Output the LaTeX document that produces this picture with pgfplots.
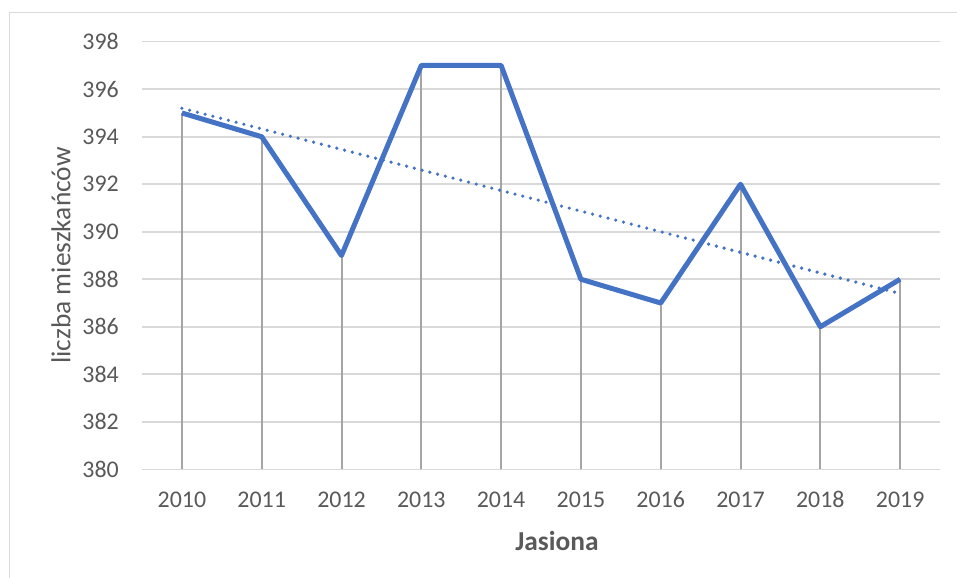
\documentclass[border=0pt]{standalone}
\usepackage{pgfplots}
\pgfplotsset{compat=1.18}
\usepackage{fontspec}
\setmainfont{Carlito}
\definecolor{ser}{HTML}{4472C4}
\definecolor{txt}{HTML}{595959}
\definecolor{grd}{HTML}{D9D9D9}
\definecolor{drp}{HTML}{A5A5A5}
\begin{document}
\begin{tikzpicture}[x=1bp,y=1bp]
\useasboundingbox (0,0) rectangle (957,-578);
\draw[grd, line width=1.5bp] (9.5,-578) -- (9.5,-12.5) -- (957,-12.5);
\begin{axis}[
  at={(142bp,-469.3bp)}, anchor=south west,
  scale only axis, width=798bp, height=427.6bp,
  xmin=-0.5, xmax=9.5, ymin=380, ymax=398,
  ytick={380,382,384,386,388,390,392,394,396,398},
  xtick={0,1,2,3,4,5,6,7,8,9},
  xticklabels={2010,2011,2012,2013,2014,2015,2016,2017,2018,2019},
  /pgf/number format/assume math mode=true,
  axis line style={draw=none},
  ymajorgrids, grid style={grd, line width=1.6bp},
  major tick length=0pt,
  tick label style={font=\fontsize{24}{28}\selectfont, text=txt},
  yticklabel style={anchor=east, inner sep=0pt, xshift=-23bp},
  xticklabel style={anchor=base, inner sep=0pt, yshift=-38.3bp},
  xlabel={Jasiona},
  ylabel={liczba mieszkańców},
  every axis x label/.style={at={(axis description cs:0.52,0)}, anchor=center, yshift=-72bp, font=\fontsize{27.5}{32}\selectfont\bfseries, text=txt},
  every axis y label/.style={at={(axis description cs:0,0.5)}, xshift=-81bp, rotate=90, anchor=center, font=\fontsize{27.5}{32}\selectfont, text=txt},
]
\addplot[ycomb, drp, line width=2bp, mark=none] coordinates {
 (0,395) (1,394) (2,389) (3,397) (4,397) (5,388) (6,387) (7,392) (8,386) (9,388)};
\addplot[ser, line width=5bp, line join=round, mark=none] coordinates {
 (0,395) (1,394) (2,389) (3,397) (4,397) (5,388) (6,387) (7,392) (8,386) (9,388)};
\addplot[ser, line width=3.6bp, dash pattern=on 0bp off 8bp, line cap=round, mark=none] coordinates {
 (0,395.2) (9,387.4)};
\end{axis}
\end{tikzpicture}
\end{document}
